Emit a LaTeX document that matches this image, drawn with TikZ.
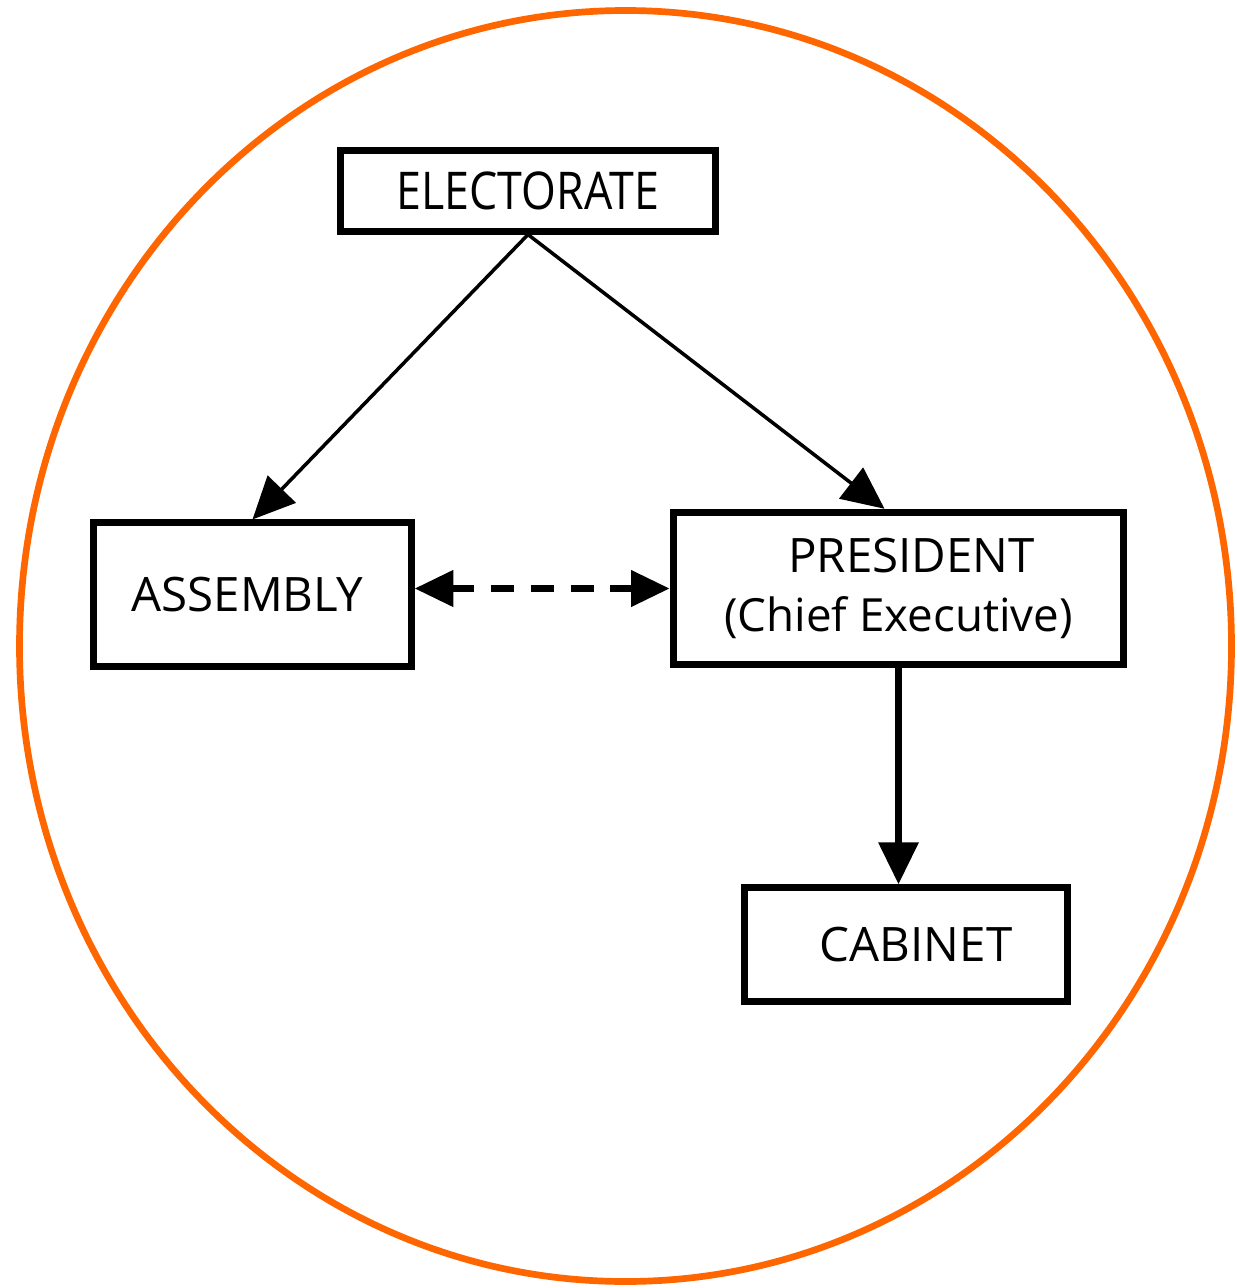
\documentclass[tikz,border=0pt]{standalone}
\usepackage{fontspec}
\setmainfont{Open Sans}
\usetikzlibrary{arrows.meta}
\definecolor{ringorange}{HTML}{FF6600}

\begin{document}
\begin{tikzpicture}[x=0.01cm,y=-0.01cm,
    box/.style={draw,line width=2pt,inner sep=0pt,align=center,font=\fontsize{13.5}{17}\selectfont},
    link/.style={line width=1pt,-{Triangle[length=12pt,width=11pt]}}]
    \useasboundingbox (0,0) rectangle (1236,1288);
    % Draw the ring
    \draw [ringorange,line width=1.9pt] (625.5,646) ellipse (606 and 635.5);
    % Draw boxes
    \node (electorate) [box,minimum width=3.74cm,minimum height=0.80cm]
        at (528,191) {\fontsize{14.8}{17}\selectfont\scalebox{0.86}[1]{ELECTORATE}};
    \node (assembly) [box,minimum width=3.17cm,minimum height=1.43cm]
        at (252.5,594.5) {\hspace*{-0.1cm}ASSEMBLY};
    \node (president) [box,line width=2.1pt,minimum width=4.50cm,minimum height=1.52cm]
        at (898.5,588.5) {\hspace*{0.26cm}PRESIDENT\\\fontsize{13}{17}\selectfont(Chief Executive)};
    \node (cabinet) [box,minimum width=3.22cm,minimum height=1.13cm]
        at (906,944.5) {\hspace*{0.2cm}CABINET};
    % Draw links
    \draw [link] (electorate.south) -- (assembly.north);
    \draw [link] (electorate.south) -- ([xshift=-0.14cm]president.north);
    \draw [line width=2pt,dash pattern=on 6.5pt off 4.8pt,
        {Triangle[length=11pt,width=10pt]}-{Triangle[length=11pt,width=10pt]}]
        (president.west -| assembly.east) -- (president.west);
    \draw [line width=2.2pt,-{Triangle[length=12pt,width=11pt]}]
        (president.south) -- (president.south |- cabinet.north);
\end{tikzpicture}
\end{document}
